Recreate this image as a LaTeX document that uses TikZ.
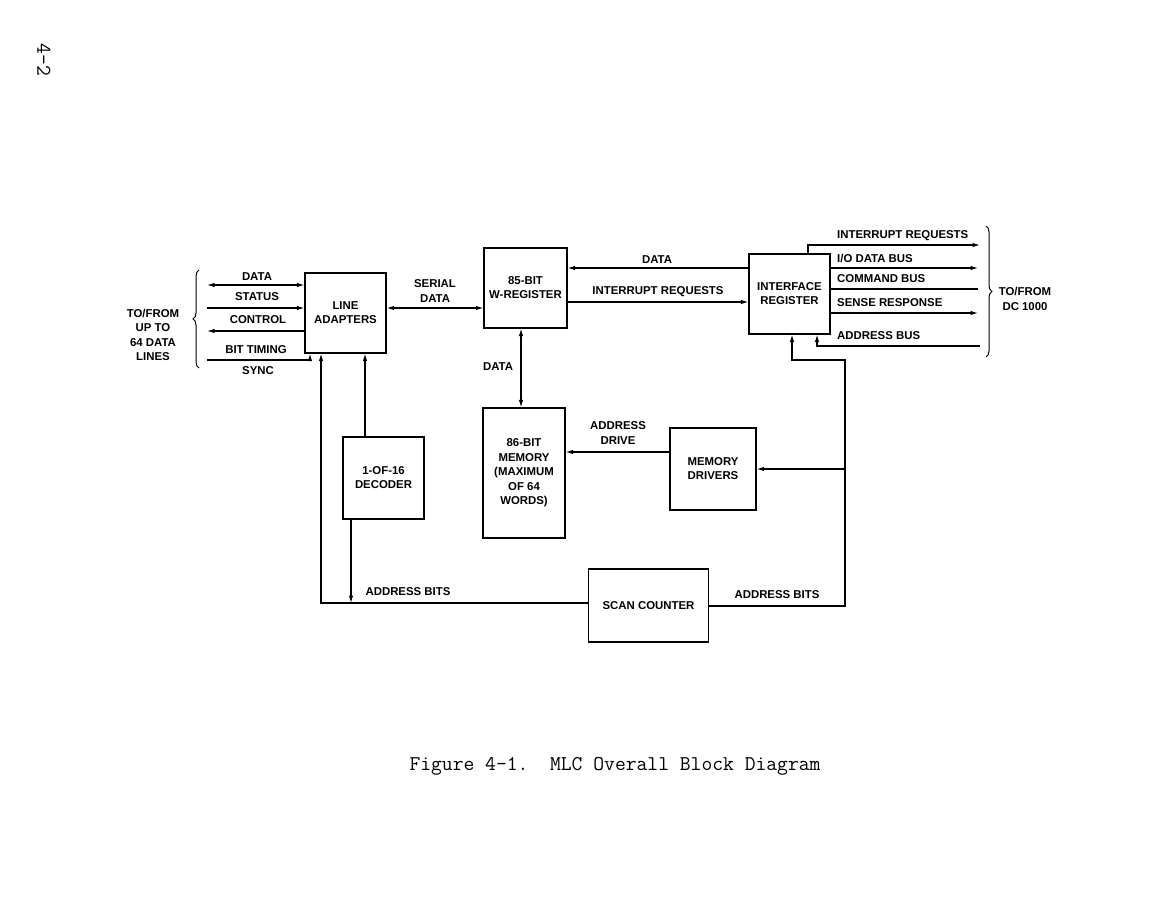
\documentclass[tikz,border=0pt]{standalone}
\usepackage{fontspec}
\setmainfont{Liberation Sans}
\usetikzlibrary{arrows.meta,positioning,calc,decorations.pathreplacing}

\begin{document}
\begin{tikzpicture}[
    x=1pt, y=-1pt,
    >={Latex[length=7.5pt,width=4.5pt]},
    block/.style={
        draw,
        line width=1.2pt,
        align=center,
        inner sep=2pt,
        font=\fontsize{11.4}{14}\selectfont\bfseries
    },
    sig/.style={line width=1.1pt},
    lbl/.style={
        align=center,
        inner sep=0pt,
        font=\fontsize{11.4}{14.5}\selectfont\bfseries
    },
    bracket/.style={
        decorate,
        decoration={brace, amplitude=6pt},
        line width=1pt
    },
    caption/.style={font=\fontsize{21}{23}\selectfont\ttfamily}
]

\useasboundingbox (0,0) rectangle (1174,904);

% ============================================================
% Blocks
% ============================================================

\node[block, minimum width=81pt, minimum height=80pt] (adapt) at (345.5,313)
    {LINE\\ADAPTERS};

\node[block, minimum width=83pt, minimum height=80pt] (wreg) at (525.5,288)
    {85-BIT\\W-REGISTER};

\node[block, minimum width=81pt, minimum height=80pt] (ifreg) at (789.5,294)
    {INTERFACE\\REGISTER};

\node[block, minimum width=81pt, minimum height=82pt] (dec) at (383.5,478)
    {1-OF-16\\DECODER};

\node[block, minimum width=82pt, minimum height=130pt,
      font=\fontsize{11.4}{14.5}\selectfont\bfseries] (mem) at (524,473)
    {86-BIT\\MEMORY\\(MAXIMUM\\OF 64\\WORDS)};

\node[block, minimum width=86pt, minimum height=82pt] (drv) at (713,469)
    {MEMORY\\DRIVERS};

\node[block, minimum width=120pt, minimum height=73pt] (scan) at (648.5,605.5)
    {SCAN COUNTER};

% ============================================================
% Data lines (left)
% ============================================================

\coordinate (dataL) at (207,285);
\coordinate (statL) at (207,308);
\coordinate (ctrlL) at (207,331);
\coordinate (syncL) at (207,360);

\draw[sig, <->] (dataL) -- (dataL -| adapt.west);
\draw[sig, ->] (statL) -- (statL -| adapt.west);
\draw[sig, ->] (ctrlL -| adapt.west) -- (ctrlL);
\draw[sig, ->] (syncL) -| (adapt.south -| 310,0);

\node[lbl] (ldata) at (257,277) {DATA};
\node[lbl] (lstat) at (257,297) {STATUS};
\node[lbl] (lctrl) at (258,320) {CONTROL};
\node[lbl] (ltime) at (256,350) {BIT TIMING};
\node[lbl] (lsync) at (258,371) {SYNC};

\draw[bracket] (199,368) -- (199,270);

\node[lbl] (lines) at (153,335) {TO/FROM\\UP TO\\64 DATA\\LINES};

% ============================================================
% Register paths
% ============================================================

\draw[sig, <->] (adapt.east |- 0,308) -- (wreg.west |- 0,308);
\node[lbl] (lserial) at (435,291) {SERIAL\\DATA};

\draw[sig, ->] (ifreg.west |- 0,268) -- (wreg.east |- 0,268);
\node[lbl] (lwdata) at (657,260) {DATA};

\draw[sig, ->] (wreg.east |- 0,302) -- (ifreg.west |- 0,302);
\node[lbl] (lwint) at (658,292) {INTERRUPT REQUESTS};

\draw[sig, <->] (wreg.south -| 521,0) -- (mem.north -| 521,0);
\node[lbl] (lmdata) at (498,367) {DATA};

% ============================================================
% DC 1000 side (right)
% ============================================================

\draw[sig, ->] (ifreg.north -| 808,0) |- (980,245);
\node[lbl, anchor=west] (lint) at (837,236) {INTERRUPT REQUESTS};

\draw[sig, ->] (ifreg.east |- 0,268) -- (978,268);
\node[lbl, anchor=west] (lio) at (837,258) {I/O DATA BUS};

\draw[sig] (ifreg.east |- 0,289) -- (978,289);
\node[lbl, anchor=west] (lcmd) at (837,279) {COMMAND BUS};

\draw[sig, ->] (ifreg.east |- 0,313) -- (978,313);
\node[lbl, anchor=west] (lsense) at (837,303) {SENSE RESPONSE};

\draw[sig, ->] (980,346) -| (ifreg.south -| 817,0);
\node[lbl, anchor=west] (laddr) at (837,336) {ADDRESS BUS};

\draw[bracket] (986,226) -- (986,357);

\node[lbl] (dc) at (1025,299) {TO/FROM\\DC 1000};

% ============================================================
% Address paths
% ============================================================

\coordinate (tap) at (845,469);

\draw[sig, ->] (scan.east |- 0,606) -| (845,360) -| (ifreg.south -| 792,0);
\draw[sig, ->] (tap) -- (drv.east |- tap);
\node[lbl] (lbitsR) at (777,595) {ADDRESS BITS};

\draw[sig, ->] (drv.west |- 0,452) -- (mem.east |- 0,452);
\node[lbl] (ldrive) at (618,433) {ADDRESS\\DRIVE};

\draw[sig, ->] (scan.west |- 0,603) -| (adapt.south -| 321,0);
\draw[sig, ->] (dec.north -| 365,0) -- (adapt.south -| 365,0);
\draw[sig, ->] (dec.south -| 351,0) -- (351,603);
\node[lbl] (lbitsL) at (408,592) {ADDRESS BITS};

% ============================================================
% Caption and page number
% ============================================================

\node[caption] (cap) at (615,766) {Figure 4-1.\ \ MLC Overall Block Diagram};
\node[caption, rotate=-90] (page) at (44,60) {4-2};

\end{tikzpicture}
\end{document}
